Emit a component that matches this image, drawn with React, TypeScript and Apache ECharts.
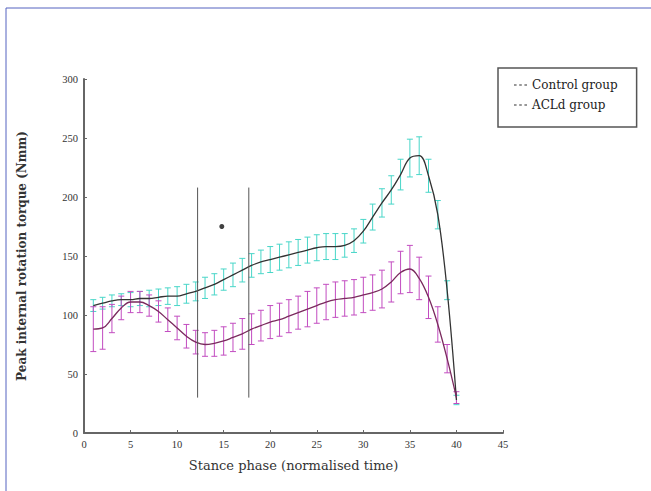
import React, { useEffect, useRef } from "react";
import * as echarts from "echarts";

const stancePoints = [1, 2, 3, 4, 5, 6, 7, 8, 9, 10, 11, 12, 13, 14, 15, 16, 17, 18, 19, 20, 21, 22, 23, 24, 25, 26, 27, 28, 29, 30, 31, 32, 33, 34, 35, 36, 37, 38, 39, 40];
const controlMean = [108, 110, 112, 113, 113, 114, 114, 115, 116, 116, 118, 120, 123, 126, 130, 134, 138, 142, 145, 147, 149, 151, 153, 155, 157, 158, 158, 159, 163, 171, 183, 195, 206, 219, 233, 235, 218, 185, 121, 28];
const controlSD = [5, 5, 5, 5, 6, 6, 7, 7, 7, 8, 8, 8, 9, 9, 9, 10, 10, 10, 10, 11, 11, 11, 11, 11, 11, 11, 11, 10, 10, 10, 11, 12, 12, 13, 16, 16, 14, 12, 8, 4];
const acldMean = [88, 89, 97, 106, 111, 111, 108, 103, 96, 89, 82, 77, 75, 76, 78, 81, 84, 88, 91, 94, 96, 99, 102, 105, 108, 111, 113, 114, 115, 117, 119, 122, 128, 136, 139, 131, 115, 92, 63, 30];
const acldSD = [19, 18, 12, 10, 9, 9, 9, 9, 10, 10, 10, 10, 10, 11, 12, 12, 13, 13, 13, 14, 14, 14, 14, 15, 15, 15, 15, 15, 15, 15, 15, 16, 17, 18, 20, 18, 18, 15, 12, 5];
const markerLinesX = [12.2, 17.7];
const markerLineRange = [30, 208];
const asteriskPoint = [14.8, 175];
const seriesNames = ["Control group", "ACLd group"];

export default function App() {
  const ref = useRef<HTMLDivElement>(null);
  useEffect(() => {
    const chart = echarts.init(ref.current as HTMLDivElement, null, { renderer: "svg" });
    const errData = (mean: number[], sd: number[]) =>
      stancePoints.map((x, i) => [x, mean[i] - sd[i], mean[i] + sd[i]]);
    const errSeries = (data: number[][], color: string) => ({
      type: "custom",
      silent: true,
      data,
      encode: { x: 0, y: [1, 2] },
      z: 2,
      renderItem: (params: any, api: any) => {
        const x = api.value(0);
        const lo = api.coord([x, api.value(1)]);
        const hi = api.coord([x, api.value(2)]);
        const w = 3;
        const style = { stroke: color, lineWidth: 1 };
        return {
          type: "group",
          children: [
            { type: "line", shape: { x1: lo[0], y1: lo[1], x2: hi[0], y2: hi[1] }, style },
            { type: "line", shape: { x1: lo[0] - w, y1: lo[1], x2: lo[0] + w, y2: lo[1] }, style },
            { type: "line", shape: { x1: hi[0] - w, y1: hi[1], x2: hi[0] + w, y2: hi[1] }, style },
          ],
        };
      },
    });
    const axisText = { fontFamily: "Liberation Serif", fontSize: 10.5, color: "#333" };
    chart.setOption({
      animation: false,
      grid: { left: 84, top: 79, right: 148, bottom: 58 },
      xAxis: {
        type: "value",
        min: 0,
        max: 45,
        interval: 5,
        name: "Stance phase (normalised time)",
        nameLocation: "middle",
        nameGap: 26,
        nameTextStyle: { fontFamily: "DejaVu Serif", fontSize: 13, color: "#333" },
        axisLine: { lineStyle: { color: "#666", width: 2 } },
        axisTick: { inside: true, length: 3, lineStyle: { color: "#666" } },
        axisLabel: { ...axisText, margin: 6 },
        splitLine: { show: false },
      },
      yAxis: {
        type: "value",
        min: 0,
        max: 300,
        interval: 50,
        name: "Peak internal rotation torque (Nmm)",
        nameLocation: "middle",
        nameGap: 56,
        nameTextStyle: { fontFamily: "DejaVu Serif", fontSize: 12, fontWeight: "bold", color: "#333" },
        axisLine: { show: true, lineStyle: { color: "#666", width: 2 } },
        axisTick: { show: true, inside: true, length: 3, lineStyle: { color: "#666" } },
        axisLabel: { ...axisText, margin: 6 },
        splitLine: { show: false },
      },
      legend: {
        orient: "vertical",
        left: 498,
        top: 68,
        data: seriesNames,
        icon: "path://M0,0h2v1h-2zM4,0h2v1h-2zM8,0h2v1h-2z",
        itemWidth: 13,
        itemHeight: 1.5,
        itemGap: 8,
        itemStyle: { color: "#777" },
        padding: [11, 19, 16, 16],
        borderColor: "#555",
        borderWidth: 1.5,
        textStyle: { fontFamily: "DejaVu Serif", fontSize: 12, color: "#222" },
      },
      graphic: [
        { type: "line", shape: { x1: 6, y1: 8, x2: 651, y2: 8 }, style: { stroke: "#5563c0", lineWidth: 1 } },
        { type: "line", shape: { x1: 6, y1: 8, x2: 6, y2: 491 }, style: { stroke: "#5563c0", lineWidth: 1 } },
      ],
      series: [
        errSeries(errData(controlMean, controlSD), "#48d6c8"),
        errSeries(errData(acldMean, acldSD), "#c24cc0"),
        {
          name: seriesNames[0],
          type: "line",
          data: stancePoints.map((x, i) => [x, controlMean[i]]),
          smooth: 0.4,
          showSymbol: false,
          lineStyle: { color: "#333", width: 1.3 },
          itemStyle: { color: "#777" },
          z: 3,
        },
        {
          name: seriesNames[1],
          type: "line",
          data: stancePoints.map((x, i) => [x, acldMean[i]]),
          smooth: 0.4,
          showSymbol: false,
          lineStyle: { color: "#7a2a5e", width: 1.3 },
          itemStyle: { color: "#777" },
          z: 3,
        },
        ...markerLinesX.map((x) => ({
          type: "line",
          data: markerLineRange.map((y) => [x, y]),
          showSymbol: false,
          silent: true,
          lineStyle: { color: "#555", width: 1 },
          z: 4,
        })),
        {
          type: "scatter",
          data: [asteriskPoint],
          symbol: "circle",
          symbolSize: 5,
          itemStyle: { color: "#111" },
          z: 5,
        },
      ],
    });
    return () => chart.dispose();
  }, []);
  return <div ref={ref} style={{ position: "fixed", left: 0, top: 0, width: 651, height: 491, background: "#fff" }} />;
}
